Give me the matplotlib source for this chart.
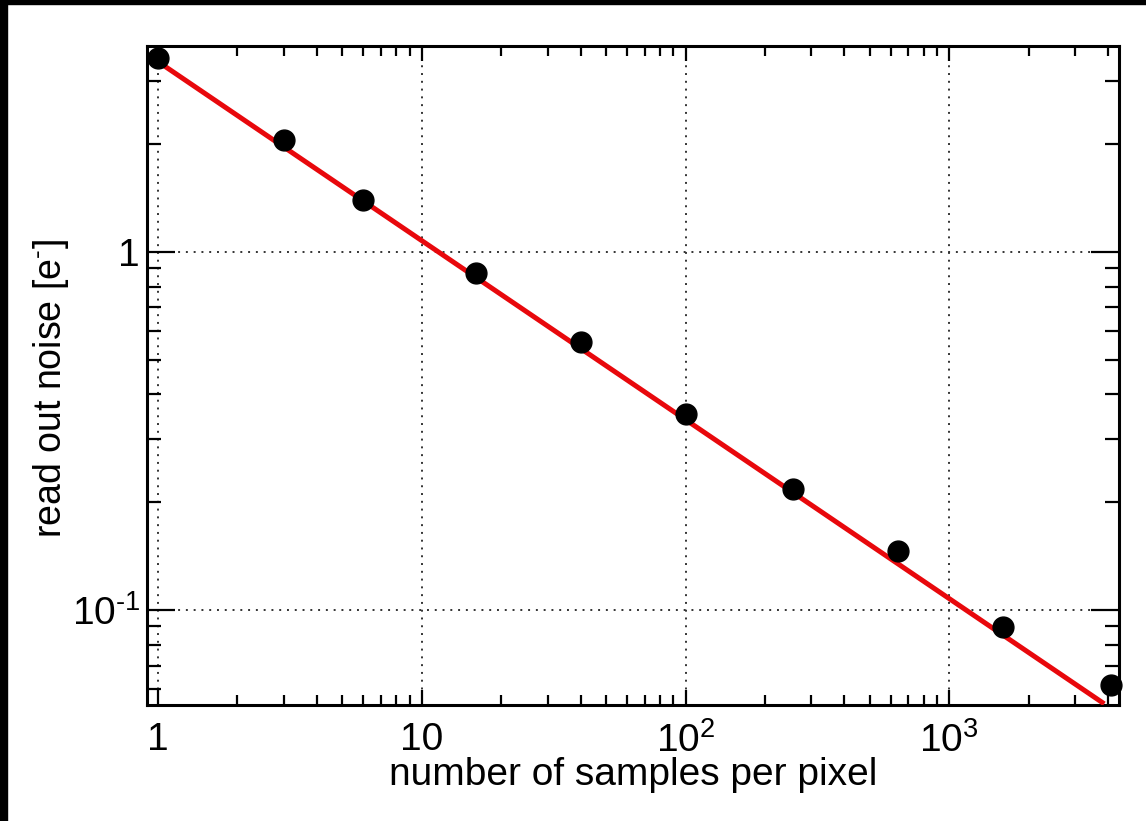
#!/usr/bin/env python3
import numpy as np
import matplotlib.pyplot as plt
from matplotlib.patches import Rectangle
from matplotlib.ticker import FixedLocator, FixedFormatter, LogLocator, NullFormatter

plt.rcParams['font.family'] = ['Liberation Sans', 'DejaVu Sans']
plt.rcParams['mathtext.fontset'] = 'custom'
plt.rcParams['mathtext.rm'] = 'Liberation Sans'

# measured read out noise vs number of samples
samples = [1, 3, 6, 16, 40, 100, 256, 640, 1600, 4100]
noise = [3.48, 2.05, 1.40, 0.874, 0.561, 0.353, 0.218, 0.146, 0.0897, 0.0617]

# fitted line (endpoints)
fit_x = [1, 3800]
fit_y = [3.40, 0.0552]

xticks = [1, 10, 100, 1000]
xlabels = ['1', '10', r'$10^{2}$', r'$10^{3}$']
yticks = [0.1, 1]
ylabels = [r'$10^{\text{-}1}$', '1']

fig = plt.figure(figsize=(11.46, 8.21), dpi=100)
ax = fig.add_axes([147 / 1146, 1 - 705 / 821, (1119 - 147) / 1146, (705 - 46) / 821])

ax.plot(fit_x, fit_y, color='#e8080c', lw=3.6, zorder=3)
ax.plot(samples, noise, 'o', color='black', ms=15, zorder=4, clip_on=False)

ax.set_xscale('log')
ax.set_yscale('log')
ax.set_xlim(0.908, 4400)
ax.set_ylim(0.0543, 3.76)

ax.xaxis.set_major_locator(FixedLocator(xticks))
ax.xaxis.set_major_formatter(FixedFormatter(xlabels))
ax.yaxis.set_major_locator(FixedLocator(yticks))
ax.yaxis.set_major_formatter(FixedFormatter(ylabels))
ax.xaxis.set_minor_locator(LogLocator(base=10, subs=np.arange(2, 10)))
ax.yaxis.set_minor_locator(LogLocator(base=10, subs=np.arange(2, 10)))
ax.xaxis.set_minor_formatter(NullFormatter())
ax.yaxis.set_minor_formatter(NullFormatter())

ax.grid(True, which='major', color='#333333', linestyle=(0, (1, 3)), lw=1.4)
ax.tick_params(which='both', direction='in', top=True, right=True, width=1.6, labelsize=28, colors='black')
ax.tick_params(axis='x', which='major', length=11, pad=12)
ax.tick_params(axis='x', which='minor', length=7)
ax.tick_params(axis='y', which='major', length=20, pad=5)
ax.tick_params(axis='y', which='minor', length=10)
for s in ax.spines.values():
    s.set_linewidth(2.2)

ax.set_xlabel('number of samples per pixel', fontsize=28, labelpad=-2)
ax.set_ylabel(r'read out noise [e$^{\text{-}}$]', fontsize=27)
ax.yaxis.set_label_coords(-0.078, 0.48)

# black edge strips of the original image
fig.patches.append(Rectangle((0, 0), 7 / 1146, 1, transform=fig.transFigure, color='black', zorder=10))
fig.patches.append(Rectangle((0, 1 - 4 / 821), 1, 4 / 821, transform=fig.transFigure, color='black', zorder=10))

fig.savefig('out.png', dpi=100)
